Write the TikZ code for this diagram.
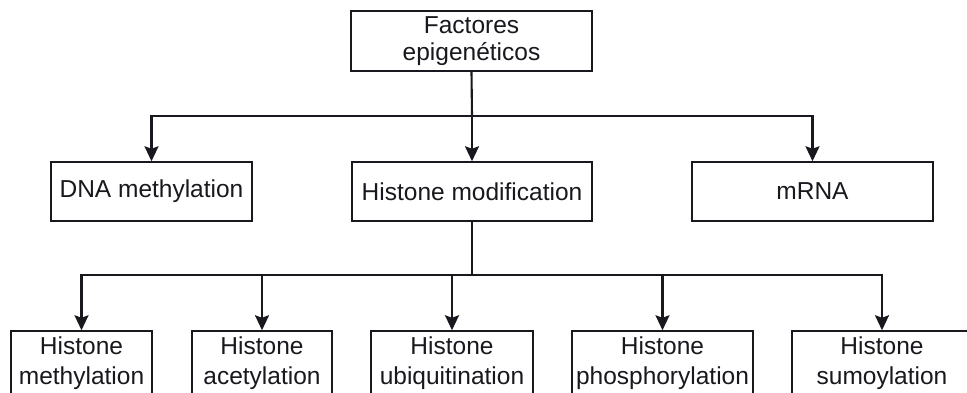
\documentclass[tikz,border=0pt]{standalone}
\usepackage{fontspec}
\setmainfont{Liberation Sans}
\usetikzlibrary{arrows.meta}
\definecolor{ink}{HTML}{18181E}
\tikzset{
  box/.style={draw=ink, line width=1.5pt, fill=white, inner sep=0pt, align=center,
    text=ink, font=\fontsize{24.5}{27}\selectfont},
  lowbox/.style={box, font=\fontsize{24.5}{29.5}\selectfont},
  conn/.style={draw=ink, line width=2.1pt},
  arr/.style={conn, -{Stealth[length=15pt,width=14pt,inset=2.5pt]}}
}
\begin{document}
\begin{tikzpicture}[x=1pt,y=1pt]
\useasboundingbox (0,0) rectangle (967,-392);
\clip (0,0) rectangle (967,-392);
\fill[white] (0,0) rectangle (967,-392);
% top
\node[box, minimum width=241, minimum height=60] (top) at (471.5,-41) {Factores\\epigenéticos};
% middle row
\node[box, minimum width=201, minimum height=59] (dna) at (151.5,-191.5) {DNA methylation};
\node[box, minimum width=240, minimum height=59] (hm) at (472,-191.5) {Histone modification};
\node[box, minimum width=241, minimum height=59] (mrna) at (812.5,-191.5) {mRNA};
% bottom row
\node[lowbox, minimum width=141, minimum height=64] (b1) at (81.5,-363) {Histone\\methylation};
\node[lowbox, minimum width=140, minimum height=64] (b2) at (262,-363) {Histone\\acetylation};
\node[lowbox, minimum width=162, minimum height=64] (b3) at (452,-363) {Histone\\ubiquitination};
\node[lowbox, minimum width=181, minimum height=64] (b4) at (662.5,-363) {Histone\\phosphorylation};
\node[lowbox, minimum width=180, minimum height=64] (b5) at (882,-363) {Histone\\sumoylation};
% junctions
\coordinate (j1) at (472,-116);
\coordinate (j2) at (472,-275);
% connectors
\draw[conn] (top.south) -- (j1);
\draw[arr] (j1) -| (dna.north);
\draw[arr] (j1) -- (hm.north);
\draw[arr] (j1) -| (mrna.north);
\draw[conn] (hm.south) -- (j2);
\draw[arr] (j2) -| (b1.north);
\draw[arr] (j2) -| (b2.north);
\draw[arr] (j2) -| (b3.north);
\draw[arr] (j2) -| (b4.north);
\draw[arr] (j2) -| (b5.north);
\end{tikzpicture}
\end{document}
